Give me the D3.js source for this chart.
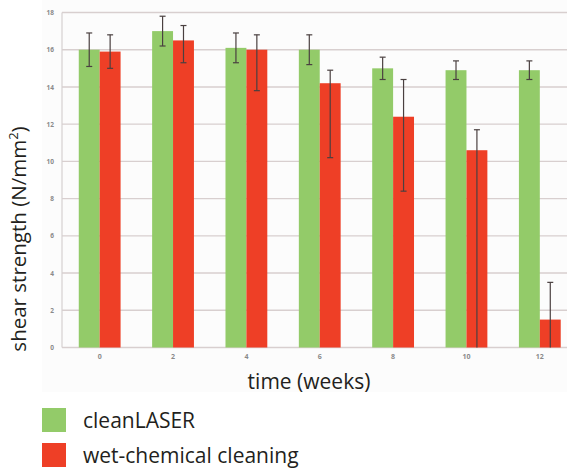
<!DOCTYPE html>
<html>
<head>
<meta charset="utf-8">
<script src="https://cdn.jsdelivr.net/npm/d3@7"></script>
<style>
  html, body { margin: 0; padding: 0; background: #ffffff; }
  svg { display: block; }
  text { font-family: "Open Sans", "Noto Sans", sans-serif; }
</style>
</head>
<body>
<svg id="chart" width="567" height="469"></svg>
<script>
// Shear strength over storage time, two cleaning methods
const weeks = ["0", "2", "4", "6", "8", "10", "12"];
const seriesNames = ["cleanLASER", "wet-chemical cleaning"];
const laserMean  = [16.0, 17.0, 16.1, 16.0, 15.0, 14.9, 14.9];
const laserLow   = [15.1, 16.2, 15.3, 15.2, 14.4, 14.4, 14.4];
const laserHigh  = [16.9, 17.8, 16.9, 16.8, 15.6, 15.4, 15.4];
const wetMean    = [15.9, 16.5, 16.0, 14.2, 12.4, 10.6, 1.5];
const wetLow     = [15.0, 15.3, 13.8, 10.2, 8.4, 0.0, 0.0];
const wetHigh    = [16.8, 17.3, 16.8, 14.9, 14.4, 11.7, 3.5];
const yTicks = [0, 2, 4, 6, 8, 10, 12, 14, 16, 18];
const colors = ["#93cb69", "#ee3f26"];

const svg = d3.select("#chart");

const x0 = d3.scaleBand().domain(weeks).range([63, 576.5])
  .paddingInner(0.43).paddingOuter(0.215);
const x1 = d3.scaleBand().domain(seriesNames).range([0, x0.bandwidth()]);
const y = d3.scaleLinear().domain([0, 18]).range([347.5, 12.5]);

// soft panel behind the plot
svg.append("rect").attr("x", 42).attr("y", 0).attr("width", 525).attr("height", 392)
  .attr("fill", "#fcfcfc");

// horizontal gridlines
svg.append("g").selectAll("line").data(yTicks).join("line")
  .attr("x1", 62).attr("x2", 567)
  .attr("y1", d => y(d)).attr("y2", d => y(d))
  .attr("stroke", "#d8cfcf").attr("stroke-width", 1.4);

// left axis line
svg.append("line").attr("x1", 62).attr("x2", 62)
  .attr("y1", y(18)).attr("y2", y(0))
  .attr("stroke", "#d6d0d0").attr("stroke-width", 1.2);

// y tick labels
const yAxis = d3.axisLeft(y).tickValues(yTicks).tickSize(0).tickPadding(0);
const gy = svg.append("g").attr("transform", "translate(54,0)").call(yAxis);
gy.select(".domain").remove();
gy.selectAll("text").attr("fill", "#8a8a8a").attr("font-size", 6.5)
  .attr("font-weight", "bold").attr("font-family", "\"Open Sans\", sans-serif");

// x tick labels
const xAxis = d3.axisBottom(x0).tickSize(0).tickPadding(0);
const gx = svg.append("g").attr("transform", "translate(0,354)").call(xAxis);
gx.select(".domain").remove();
gx.selectAll("text").attr("fill", "#8a8a8a").attr("font-size", 7)
  .attr("font-weight", "bold").attr("font-family", "\"Open Sans\", sans-serif");

// bars
const rows = weeks.map((w, i) => ({
  week: w,
  items: [
    { name: seriesNames[0], mean: laserMean[i], low: laserLow[i], high: laserHigh[i] },
    { name: seriesNames[1], mean: wetMean[i], low: wetLow[i], high: wetHigh[i] }
  ]
}));
const color = d3.scaleOrdinal().domain(seriesNames).range(colors);

const groups = svg.append("g").selectAll("g").data(rows).join("g")
  .attr("transform", d => `translate(${x0(d.week)},0)`);

groups.selectAll("rect").data(d => d.items).join("rect")
  .attr("x", d => x1(d.name))
  .attr("y", d => y(d.mean))
  .attr("width", x1.bandwidth())
  .attr("height", d => y(0) - y(d.mean))
  .attr("fill", d => color(d.name));

// error bars
const err = groups.selectAll("g.err").data(d => d.items).join("g").attr("class", "err")
  .attr("transform", d => `translate(${x1(d.name) + x1.bandwidth() / 2},0)`);
err.append("line").attr("x1", 0).attr("x2", 0)
  .attr("y1", d => y(d.low)).attr("y2", d => y(d.high))
  .attr("stroke", "#4a4040").attr("stroke-width", 1.2);
err.append("line").attr("x1", -3).attr("x2", 3)
  .attr("y1", d => y(d.high)).attr("y2", d => y(d.high))
  .attr("stroke", "#4a4040").attr("stroke-width", 1.2);
err.filter(d => d.low > 0).append("line").attr("x1", -3).attr("x2", 3)
  .attr("y1", d => y(d.low)).attr("y2", d => y(d.low))
  .attr("stroke", "#4a4040").attr("stroke-width", 1.2);

// axis titles
svg.append("text").attr("x", 309).attr("y", 389).attr("text-anchor", "middle")
  .attr("font-size", 21).attr("fill", "#231f20").text("time (weeks)");

const yt = svg.append("text").attr("transform", "translate(26,239) rotate(-90)")
  .attr("text-anchor", "middle").attr("font-size", 20.5).attr("fill", "#231f20");
yt.append("tspan").text("shear strength (N/mm");
yt.append("tspan").attr("font-size", 13).attr("dy", -8).text("2");
yt.append("tspan").attr("dy", 8).text(")");

// legend
const legend = svg.append("g").selectAll("g").data(seriesNames).join("g")
  .attr("transform", (d, i) => `translate(42,${408 + i * 35})`);
legend.append("rect").attr("width", 24).attr("height", 24).attr("fill", d => color(d));
legend.append("text").attr("x", 41).attr("y", 19.5).attr("font-size", 21)
  .attr("fill", "#231f20").text(d => d);
</script>
</body>
</html>
